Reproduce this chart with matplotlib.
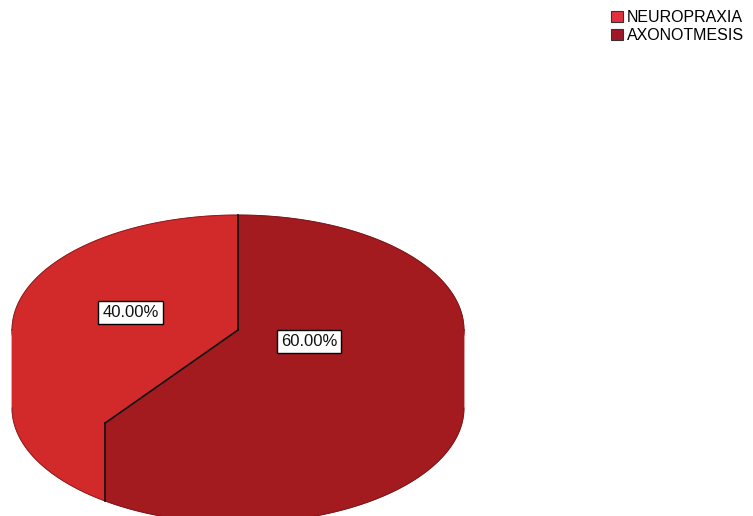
import matplotlib
matplotlib.use("Agg")
import matplotlib.pyplot as plt
import numpy as np
from matplotlib.patches import Patch

# data
categories = ["NEUROPRAXIA", "AXONOTMESIS"]
percents = [40.0, 60.0]
slice_colors = ["#d22a2a", "#a31b1e"]
legend_colors = ["#e2303e", "#a01828"]

plt.rcParams['font.family'] = ['Liberation Sans', 'DejaVu Sans']

fig = plt.figure(figsize=(7.53, 5.16), dpi=100)
ax = fig.add_axes([0, 0, 1, 1])
ax.set_xlim(0, 753)
ax.set_ylim(516, 0)
ax.axis("off")

# pie geometry (pixels)
cx, cy = 238, 330
a, b = 226, 115
depth = 78


def rim(t, dy=0):
    return cx + a * np.cos(t), cy - b * np.sin(t) + dy


# slice angles: start at 12 o'clock, go counterclockwise
fracs = np.array(percents) / sum(percents)
starts = np.pi / 2 + 2 * np.pi * np.concatenate([[0], np.cumsum(fracs)[:-1]])
ends = starts + 2 * np.pi * fracs

# side walls (visible lower half: pi..2pi)
for s, e, col in zip(starts, ends, slice_colors):
    for off in (0, 2 * np.pi):
        lo, hi = max(s, np.pi + off), min(e, 2 * np.pi + off)
        if hi > lo:
            t = np.linspace(lo, hi, 200)
            x1, y1 = rim(t, -1)
            x2, y2 = rim(t[::-1], depth)
            ax.fill(np.concatenate([x1, x2]), np.concatenate([y1, y2]),
                    fc=col, ec=col, lw=0.6)

# top faces
for s, e, col in zip(starts, ends, slice_colors):
    t = np.linspace(s, e, 300)
    x, y = rim(t)
    ax.fill(np.concatenate([[cx], x]), np.concatenate([[cy], y]),
            fc=col, ec=col, lw=0.6)

# slice borders: on top face and down the visible side
for s in starts:
    xe, ye = rim(s)
    ax.plot([cx, xe], [cy, ye], color="#111111", lw=1.2, zorder=3)
    tm = s % (2 * np.pi)
    if np.pi < tm < 2 * np.pi:
        ax.plot([xe, xe], [ye, ye + depth], color="#111111", lw=1.2, zorder=3)

# outline (upper rim and lower rim)
t = np.linspace(0, np.pi, 300)
x, y = rim(t)
ax.plot(x, y, color="#5a0e10", lw=0.7, alpha=0.6)
t = np.linspace(np.pi, 2 * np.pi, 300)
x, y = rim(t, depth)
ax.plot(x, y, color="#5a0e10", lw=0.7, alpha=0.6)

# labels
mids = (starts + ends) / 2
label_r = [0.5, 0.33]
for m, p, r in zip(mids, percents, label_r):
    lx, ly = cx + a * r * np.cos(m), cy - b * r * np.sin(m)
    ax.text(lx, ly, f"{p:.2f}%", fontsize=12, ha="center", va="center",
            color="#111111", zorder=4,
            bbox=dict(boxstyle="square,pad=0.25", fc="white", ec="black", lw=1))

handles = [Patch(facecolor=c, edgecolor="#333333", lw=0.8) for c in legend_colors]
ax.legend(handles, categories, loc="upper left", bbox_to_anchor=(611 / 753, 1 - 10 / 516),
          frameon=False, fontsize=11.5, handlelength=0.75, handleheight=0.75,
          handletextpad=0.25, labelspacing=0.2, borderpad=0, borderaxespad=0)

fig.savefig("out.png", dpi=100)
